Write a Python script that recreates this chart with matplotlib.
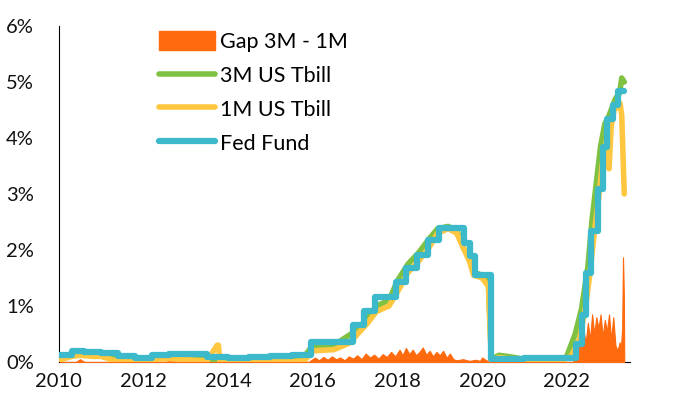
import numpy as np
import matplotlib.pyplot as plt
from matplotlib.patches import Patch
from matplotlib.lines import Line2D
from matplotlib.ticker import FuncFormatter

plt.rcParams['font.family'] = ['Lato', 'DejaVu Sans']

# Fed Fund effective rate (step changes), decimal year -> %
ff_dates = [2010.0, 2010.3, 2010.6, 2011.0, 2011.4, 2011.8, 2012.2, 2012.6, 2013.0, 2013.5,
            2014.0, 2014.5, 2015.0, 2015.5, 2015.96, 2016.96, 2017.21, 2017.46, 2017.96, 2018.21,
            2018.46, 2018.73, 2018.97, 2019.58, 2019.71, 2019.83, 2020.17, 2020.22, 2021.0, 2022.0,
            2022.21, 2022.37, 2022.46, 2022.57, 2022.73, 2022.85, 2022.96, 2023.09, 2023.22, 2023.36]
ff_vals = [0.12, 0.19, 0.18, 0.16, 0.10, 0.08, 0.13, 0.15, 0.14, 0.09,
           0.08, 0.09, 0.11, 0.13, 0.36, 0.66, 0.91, 1.16, 1.42, 1.68,
           1.91, 2.18, 2.40, 2.13, 1.90, 1.55, 1.55, 0.05, 0.08, 0.08,
           0.33, 0.83, 1.58, 2.33, 3.08, 3.83, 4.33, 4.58, 4.83, 4.83]

# 3M US Tbill
t3_dates = [2010.0, 2010.3, 2010.5, 2010.8, 2011.0, 2011.3, 2011.6, 2012.0, 2012.3, 2012.6,
            2013.0, 2013.5, 2014.0, 2014.5, 2015.0, 2015.5, 2015.8, 2016.0, 2016.5, 2016.9,
            2017.0, 2017.3, 2017.5, 2017.8, 2018.0, 2018.25, 2018.5, 2018.75, 2018.95, 2019.2,
            2019.4, 2019.55, 2019.7, 2019.8, 2020.0, 2020.15, 2020.22, 2020.4, 2020.6, 2021.0,
            2021.5, 2021.9, 2022.0, 2022.2, 2022.35, 2022.5, 2022.6, 2022.7, 2022.8, 2022.9,
            2023.0, 2023.15, 2023.25, 2023.3, 2023.36]
t3_vals = [0.06, 0.15, 0.16, 0.13, 0.15, 0.06, 0.02, 0.03, 0.09, 0.10,
           0.07, 0.04, 0.06, 0.03, 0.02, 0.02, 0.10, 0.30, 0.30, 0.50,
           0.52, 0.80, 1.00, 1.10, 1.45, 1.75, 1.95, 2.20, 2.38, 2.42,
           2.35, 2.05, 1.85, 1.60, 1.55, 1.40, 0.05, 0.12, 0.10, 0.05,
           0.04, 0.05, 0.10, 0.50, 0.95, 1.70, 2.55, 3.20, 3.85, 4.25,
           4.40, 4.70, 4.80, 5.07, 5.00]

# 1M US Tbill
t1_dates = [2010.0, 2010.3, 2010.5, 2010.8, 2011.0, 2011.3, 2011.6, 2012.0, 2012.3, 2012.6,
            2013.0, 2013.5, 2013.74, 2013.77, 2013.8, 2014.0, 2014.5, 2015.0, 2015.5, 2015.8,
            2016.0, 2016.5, 2016.9, 2017.0, 2017.3, 2017.5, 2017.8, 2018.0, 2018.25, 2018.5,
            2018.75, 2018.95, 2019.2, 2019.4, 2019.55, 2019.7, 2019.8, 2020.0, 2020.15, 2020.22,
            2020.4, 2021.0, 2021.9, 2022.1, 2022.3, 2022.45, 2022.55, 2022.65, 2022.75, 2022.85,
            2022.95, 2023.0, 2023.05, 2023.12, 2023.2, 2023.26, 2023.3, 2023.36]
t1_vals = [0.03, 0.10, 0.12, 0.10, 0.10, 0.03, 0.01, 0.02, 0.05, 0.06,
           0.04, 0.02, 0.30, 0.30, 0.03, 0.02, 0.02, 0.01, 0.01, 0.02,
           0.20, 0.22, 0.35, 0.45, 0.70, 0.90, 1.00, 1.25, 1.60, 1.80,
           2.05, 2.30, 2.38, 2.30, 2.05, 1.80, 1.55, 1.50, 1.35, 0.02,
           0.08, 0.02, 0.03, 0.10, 0.40, 1.00, 1.60, 2.30, 2.90, 3.60,
           4.00, 3.45, 4.20, 4.50, 4.55, 4.62, 4.40, 3.00]

# Gap 3M - 1M
gap_dates = [2010.0, 2010.4, 2010.5, 2010.6, 2011.0, 2012.5, 2012.7, 2012.8, 2015.9, 2016.05,
             2016.15, 2016.25, 2016.35, 2016.45, 2016.55, 2016.65, 2016.75, 2016.85, 2016.95, 2017.05,
             2017.15, 2017.25, 2017.35, 2017.45, 2017.55, 2017.65, 2017.75, 2017.85, 2017.95, 2018.05,
             2018.12, 2018.2, 2018.28, 2018.36, 2018.44, 2018.52, 2018.6, 2018.68, 2018.76, 2018.84,
             2018.92, 2019.0, 2019.08, 2019.16, 2019.24, 2019.32, 2019.4, 2019.55, 2019.7, 2019.85,
             2019.95, 2020.0, 2020.1, 2020.2, 2022.15, 2022.2, 2022.25, 2022.3, 2022.35, 2022.4,
             2022.45, 2022.5, 2022.55, 2022.6, 2022.65, 2022.7, 2022.75, 2022.8, 2022.85, 2022.9,
             2022.95, 2023.0, 2023.05, 2023.1, 2023.15, 2023.2, 2023.25, 2023.28, 2023.31, 2023.33,
             2023.35, 2023.36]
gap_vals = [0.0, 0.0, 0.05, 0.0, 0.0, 0.0, 0.04, 0.0, 0.0, 0.08,
            0.03, 0.09, 0.04, 0.10, 0.05, 0.08, 0.03, 0.10, 0.06, 0.12,
            0.05, 0.15, 0.08, 0.13, 0.06, 0.14, 0.09, 0.18, 0.10, 0.22,
            0.12, 0.25, 0.14, 0.22, 0.12, 0.18, 0.26, 0.13, 0.20, 0.10,
            0.18, 0.12, 0.20, 0.08, 0.15, 0.05, 0.03, 0.05, 0.02, 0.04,
            0.02, 0.08, 0.03, 0.0, 0.0, 0.25, 0.10, 0.40, 0.20, 0.55,
            0.35, 0.70, 0.40, 0.85, 0.50, 0.80, 0.60, 0.85, 0.45, 0.75,
            0.55, 0.85, 0.40, 0.80, 0.30, 0.20, 0.35, 0.25, 0.60, 1.87,
            1.20, 0.0]

c_gap, c_3m, c_1m, c_ff = '#FF6A0E', '#7FC242', '#FFC640', '#3DB9CC'

fig = plt.figure(figsize=(6.85, 4.18), dpi=100)
ax = fig.add_axes([0.086, 0.134, 0.834, 0.804])

ax.fill_between(gap_dates, 0, gap_vals, color=c_gap, lw=0.8, zorder=1)
ax.plot(t3_dates, t3_vals, color=c_3m, lw=4, solid_capstyle='round', solid_joinstyle='round', zorder=2)
ax.plot(t1_dates, t1_vals, color=c_1m, lw=4, solid_capstyle='round', solid_joinstyle='round', zorder=3)
ax.plot(ff_dates, ff_vals, color=c_ff, lw=4.5, drawstyle='steps-post', solid_capstyle='round',
        solid_joinstyle='round', zorder=4)

ax.set_xlim(2010.0, 2023.5)
ax.set_ylim(0, 6)
ax.set_xticks(range(2010, 2023, 2))
ax.set_yticks(range(0, 7))
ax.yaxis.set_major_formatter(FuncFormatter(lambda v, p: f"{int(v)}%"))
ax.tick_params(length=0, labelsize=14.5, colors='#111111', pad=8)
ax.tick_params(axis='y', pad=18)
for s in ['top', 'right']:
    ax.spines[s].set_visible(False)
for s in ['left', 'bottom']:
    ax.spines[s].set_linewidth(0.8)
    ax.spines[s].set_color('black')
ax.spines['bottom'].set_zorder(0)

handles = [Patch(color=c_gap),
           Line2D([], [], color=c_3m, lw=4, solid_capstyle='round'),
           Line2D([], [], color=c_1m, lw=4, solid_capstyle='round'),
           Line2D([], [], color=c_ff, lw=4.5, solid_capstyle='round')]
labels = ['Gap 3M - 1M', '3M US Tbill', '1M US Tbill', 'Fed Fund']
fig.legend(handles, labels, loc='upper left', bbox_to_anchor=(0.204, 0.972), frameon=False,
           fontsize=15.5, handlelength=2.6, handleheight=1.0, handletextpad=0.25, labelspacing=0.6)

fig.savefig('out.png', dpi=100)
